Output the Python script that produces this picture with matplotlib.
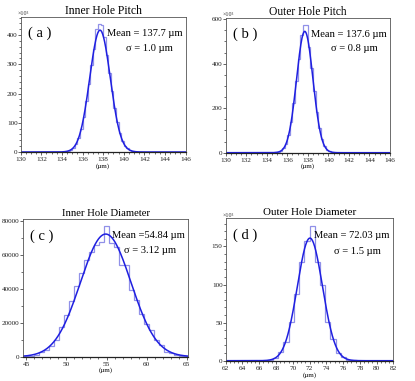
import numpy as np
import matplotlib
matplotlib.use("Agg")
import matplotlib.pyplot as plt
from matplotlib.ticker import MultipleLocator

plt.rcParams['font.family'] = ['Liberation Serif', 'DejaVu Serif']

# ---------------- data ----------------
# (a) Inner Hole Pitch, bins of 0.25 um starting at 134.0 (x10^3 counts)
a_bin_start, a_bin_width = 134.0, 0.25
a_counts = [0.7, 1.7, 3.7, 7.7, 15, 28, 48, 79, 121, 173, 234, 297, 354, 420,
            438, 436, 392, 332, 272, 209, 151, 103, 65, 39, 22, 12, 6, 2.7, 1.2, 0.5]
a_fit = dict(amp=417, mean=137.7, sigma=1.0)

# (b) Outer Hole Pitch, bins of 0.25 um starting at 134.75 (x10^3 counts)
b_bin_start, b_bin_width = 134.75, 0.25
b_counts = [1.1, 3.1, 8, 19, 40, 79, 138, 221, 320, 421, 530, 572, 574, 473,
            382, 279, 185, 112, 61, 30, 13.5, 5.5, 2.0, 0.7]
b_fit = dict(amp=545, mean=137.7, sigma=0.8)

# (c) Inner Hole Diameter, bins of 0.625 um starting at 44.7
c_bin_start, c_bin_width = 44.7, 0.625
c_counts = [400, 700, 1200, 2500, 3800, 6500, 10000, 17300, 24500, 33000, 41500,
            49500, 57000, 62000, 66000, 67500, 77200, 67000, 64500, 54000, 54000,
            39500, 33500, 25000, 19000, 15500, 10000, 7000, 3000, 2000, 1200, 600, 300]
c_fit = dict(amp=72300, mean=54.9, sigma=3.15)

# (d) Outer Hole Diameter, bins of 0.625 um starting at 62.0 (x10^3 counts)
d_bin_start, d_bin_width = 62.0, 0.625
d_counts = [0, 0, 0, 0, 0, 0, 0, 0, 1, 4, 12, 25, 51, 88, 130, 157, 177, 130,
            100, 51, 29, 10, 5, 1.5, 0.5, 0, 0, 0, 0, 0, 0, 0]
d_fit = dict(amp=161, mean=72.05, sigma=1.5)

titles = ["Inner Hole Pitch", "Outer Hole Pitch", "Inner Hole Diameter", "Outer Hole Diameter"]
tags = ["( a )", "( b )", "( c )", "( d )"]
mean_txt = ["Mean = 137.7 µm", "Mean = 137.6 µm", "Mean =54.84 µm", "Mean = 72.03 µm"]
sigma_txt = ["σ = 1.0 µm", "σ = 0.8 µm", "σ = 3.12 µm", "σ = 1.5 µm"]

# ---------------- layout ----------------
W, H = 415, 381
fig = plt.figure(figsize=(W / 100, H / 100), dpi=100)

def add_ax(l, r, t, b):
    return fig.add_axes([l / W, 1 - b / H, (r - l) / W, (b - t) / H])

boxes = [(20.7, 185.5, 17, 152), (225.7, 390, 18, 152.7),
         (22.7, 188.3, 219.3, 356.7), (225.7, 393.3, 218.3, 360.7)]
xlims = [(130, 146), (130, 146), (44.55, 65.2), (62, 82)]
ylims = [(0, 462), (0, 605), (0, 81000), (0, 187)]
xmaj = [2, 2, 5, 2]
xmin = [0.5, 0.5, 1, 0.5]
ymaj = [100, 200, 20000, 50]
ymin = [20, 50, 10000, 10]
sci = [True, True, False, True]
title_sizes = [8.4, 8.3, 7.7, 7.9]

panels = [(a_bin_start, a_bin_width, a_counts, a_fit),
          (b_bin_start, b_bin_width, b_counts, b_fit),
          (c_bin_start, c_bin_width, c_counts, c_fit),
          (d_bin_start, d_bin_width, d_counts, d_fit)]

hist_col = '#9090e8'
fit_col = '#1f1fe0'
frame_col = '#555555'

for i, (start, width, counts, fit) in enumerate(panels):
    ax = add_ax(*boxes[i])
    edges = start + width * np.arange(len(counts) + 1)
    ax.stairs(counts, edges, color=hist_col, lw=0.9, baseline=None)
    xs = np.linspace(xlims[i][0], xlims[i][1], 600)
    ys = fit['amp'] * np.exp(-0.5 * ((xs - fit['mean']) / fit['sigma']) ** 2)
    ax.plot(xs, ys, color=fit_col, lw=1.1)
    ax.set_xlim(*xlims[i])
    ax.set_ylim(*ylims[i])
    ax.xaxis.set_major_locator(MultipleLocator(xmaj[i]))
    ax.xaxis.set_minor_locator(MultipleLocator(xmin[i]))
    ax.yaxis.set_major_locator(MultipleLocator(ymaj[i]))
    ax.yaxis.set_minor_locator(MultipleLocator(ymin[i]))
    ax.tick_params(which='major', direction='out', length=2.5, width=0.5,
                   labelsize=5.2, pad=1, colors='#222222')
    ax.tick_params(axis='y', which='major', pad=0.3, length=2.0)
    ax.tick_params(which='minor', direction='out', length=1.3, width=0.4)
    for s in ax.spines.values():
        s.set_color(frame_col)
        s.set_linewidth(0.6)
    ax.spines['bottom'].set_color('#222222')
    ax.spines['bottom'].set_linewidth(0.9)
    ax.text(0.5, -0.08, "(µm)", transform=ax.transAxes, ha='center', va='top', fontsize=5)
    ax.set_title(titles[i], fontsize=title_sizes[i], pad=2.5)
    if sci[i]:
        ax.text(-0.02, 1.005, "×10³", transform=ax.transAxes, ha='left', va='bottom',
                fontsize=4.3, color='#333333')
    ax.text(0.045, 0.88, tags[i], transform=ax.transAxes, ha='left', va='center', fontsize=10.5)
    ax.text(0.98, 0.88, mean_txt[i], transform=ax.transAxes, ha='right', va='center', fontsize=7.6)
    ax.text(0.925, 0.77, sigma_txt[i], transform=ax.transAxes, ha='right', va='center', fontsize=7.6)

fig.savefig("out.png", dpi=100)
